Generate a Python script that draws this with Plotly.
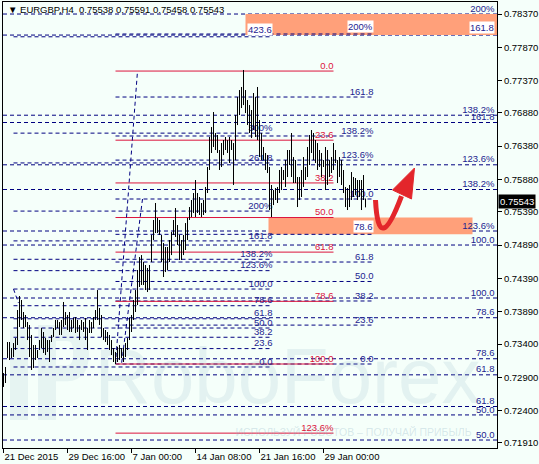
import plotly.graph_objects as go

# ---------------- data ----------------
symbol = "EURGBP,H4"
last_ohlc = ["0.75538", "0.75591", "0.75458", "0.75543"]
last_price = 0.75543

bar_high = [
    0.72963, 0.73054, 0.73430, 0.73430, 0.73340, 0.73415, 0.73490, 0.73912, 0.74123, 0.74063,
    0.73882, 0.73837, 0.73731, 0.73686, 0.73536, 0.73385, 0.73385, 0.73310, 0.73460, 0.73641,
    0.73581, 0.73490, 0.73460, 0.73460, 0.73536, 0.73641, 0.73762, 0.73762, 0.73731, 0.73762,
    0.74033, 0.73882, 0.73837, 0.73882, 0.73762, 0.73792, 0.73807, 0.73762, 0.73686, 0.73762,
    0.73731, 0.73792, 0.73641, 0.73762, 0.73731, 0.73807, 0.73912, 0.74213, 0.73942, 0.73837,
    0.73641, 0.73611, 0.73581, 0.73536, 0.73460, 0.73340, 0.73280, 0.73355, 0.73385, 0.73340,
    0.73340, 0.73415, 0.73490, 0.73792, 0.73837, 0.74063, 0.74213, 0.74515, 0.74710, 0.74740,
    0.74635, 0.74590, 0.74545, 0.74590, 0.75042, 0.75268, 0.75524, 0.75298, 0.75268, 0.75042,
    0.74921, 0.74861, 0.74861, 0.74966, 0.75087, 0.75268, 0.75448, 0.75192, 0.75042, 0.74966,
    0.75042, 0.75222, 0.75298, 0.75463, 0.75569, 0.75674, 0.75870, 0.75674, 0.75614, 0.75524,
    0.75569, 0.75765, 0.76066, 0.76518, 0.76668, 0.76894, 0.76578, 0.76548, 0.76322, 0.76427,
    0.76472, 0.76518, 0.76472, 0.76518, 0.76472, 0.76427, 0.76849, 0.77120, 0.77225, 0.77271,
    0.77527, 0.77225, 0.77075, 0.76999, 0.76924, 0.77180, 0.77120, 0.77271, 0.76774, 0.76578,
    0.76367, 0.76277, 0.76246, 0.76066, 0.75795, 0.75719, 0.75749, 0.75765, 0.76021, 0.76066,
    0.76021, 0.76171, 0.76322, 0.76322, 0.76578, 0.76216, 0.76171, 0.75915, 0.75915, 0.76021,
    0.76216, 0.76066, 0.76367, 0.76548, 0.76623, 0.76578, 0.76472, 0.76427, 0.76322, 0.76277,
    0.76171, 0.76367, 0.76322, 0.76171, 0.76216, 0.76427, 0.76322, 0.76171, 0.76216, 0.76171,
    0.76021, 0.75765, 0.75749, 0.75795, 0.75990, 0.75915, 0.75900, 0.75870, 0.75870, 0.75870,
    0.75945, 0.75591,
]
bar_low = [
    0.72753, 0.72813, 0.73189, 0.73159, 0.73189, 0.73204, 0.73310, 0.73385, 0.73656, 0.73762,
    0.73641, 0.73656, 0.73460, 0.73204, 0.73009, 0.73039, 0.73159, 0.73189, 0.73310, 0.73340,
    0.73265, 0.73234, 0.73280, 0.73129, 0.73430, 0.73506, 0.73611, 0.73641, 0.73536, 0.73536,
    0.73656, 0.73686, 0.73611, 0.73581, 0.73581, 0.73641, 0.73566, 0.73581, 0.73460, 0.73611,
    0.73581, 0.73460, 0.73310, 0.73566, 0.73566, 0.73641, 0.73762, 0.73762, 0.73686, 0.73506,
    0.73460, 0.73430, 0.73385, 0.73310, 0.73234, 0.73129, 0.73099, 0.73129, 0.73159, 0.73189,
    0.73129, 0.73204, 0.73310, 0.73460, 0.73581, 0.73762, 0.73882, 0.73987, 0.74259, 0.74289,
    0.74289, 0.74213, 0.74183, 0.74213, 0.74635, 0.74966, 0.75072, 0.75072, 0.75042, 0.74635,
    0.74409, 0.74484, 0.74515, 0.74635, 0.74740, 0.75042, 0.75012, 0.74891, 0.74665, 0.74665,
    0.74740, 0.74816, 0.74966, 0.75268, 0.75313, 0.75373, 0.75313, 0.75373, 0.75343, 0.75313,
    0.75343, 0.75373, 0.75674, 0.76021, 0.76277, 0.76367, 0.76322, 0.76277, 0.76021, 0.76066,
    0.76246, 0.76322, 0.76277, 0.76126, 0.76322, 0.75795, 0.76171, 0.76698, 0.76849, 0.76954,
    0.76999, 0.76879, 0.76698, 0.76578, 0.76502, 0.76623, 0.76518, 0.76472, 0.76216, 0.76171,
    0.76171, 0.76021, 0.75975, 0.75418, 0.75313, 0.75493, 0.75569, 0.75524, 0.75674, 0.75719,
    0.75870, 0.75765, 0.75915, 0.76096, 0.75915, 0.75825, 0.75825, 0.75463, 0.75569, 0.75614,
    0.75765, 0.75870, 0.75915, 0.76096, 0.76277, 0.76171, 0.76126, 0.76021, 0.76066, 0.75915,
    0.76066, 0.75719, 0.75795, 0.75915, 0.75975, 0.76021, 0.76126, 0.75825, 0.75915, 0.75795,
    0.75674, 0.75463, 0.75418, 0.75463, 0.75569, 0.75614, 0.75644, 0.75569, 0.75614, 0.75418,
    0.75569, 0.75458,
]

x_tick_bars = [0, 32, 64, 96, 128, 160]
x_tick_labels = ["21 Dec 2015", "29 Dec 16:00", "7 Jan 00:00", "14 Jan 08:00", "21 Jan 16:00", "29 Jan 00:00"]

y_tick_values = [0.78370, 0.77870, 0.77370, 0.76880, 0.76380, 0.75880, 0.75390,
                 0.74890, 0.74390, 0.73890, 0.73400, 0.72900, 0.72400, 0.71910]
y_tick_labels = ["0.78370", "0.77870", "0.77370", "0.76880", "0.76380", "0.75880", "0.75390",
                 "0.74890", "0.74390", "0.73890", "0.73400", "0.72900", "0.72400", "0.71910"]

# Fibonacci tool A (red retracement)
fib_a_labels = ["0.0", "23.6", "38.2", "50.0", "61.8", "78.6", "100.0", "123.6%"]
fib_a_prices = [0.77511, 0.76470, 0.75826, 0.75305, 0.74784, 0.74043, 0.73099, 0.72058]
fib_a_bars = [56, 165]

# Fibonacci tool B (navy, from the January low)
fib_b_labels = ["0.0", "23.6", "38.2", "50.0", "61.8", "78.6", "100.0", "123.6%", "138.2%", "161.8", "200%"]
fib_b_prices = [0.73099, 0.73685, 0.74048, 0.74342, 0.74635, 0.75052, 0.75584, 0.76170, 0.76533, 0.77120, 0.78069]
fib_b_bars = [56, 185]

# Fibonacci tool C (navy, from December range)
fib_c_labels = ["0.0", "23.6", "38.2", "50.0", "61.8", "78.6", "100.0", "123.6%", "138.2%",
                "161.8", "200%", "261.8", "300%", "423.6"]
fib_c_prices = [0.73054, 0.73331, 0.73502, 0.73641, 0.73780, 0.73977, 0.74228, 0.74505, 0.74676,
                0.74953, 0.75402, 0.76127, 0.76576, 0.78027]
fib_c_bars = [5, 134.5]

# Full-width Fibonacci tools D1 and D2
fib_d1_labels = ["161.8", "138.2%", "123.6%", "100.0", "78.6", "61.8", "50.0"]
fib_d1_prices = [0.78053, 0.76846, 0.76099, 0.74891, 0.73796, 0.72936, 0.72332]
fib_d2_labels = ["200%", "161.8", "138.2%", "123.6%", "100.0", "78.6", "61.8", "50.0"]
fib_d2_prices = [0.78370, 0.76736, 0.75727, 0.75102, 0.74093, 0.73178, 0.72459, 0.71954]

# target zones
zone_top_bars = [121]               # extends to the right edge
zone_top_prices = [0.78053, 0.78370]
zone_mid_bars = [132.5, 234.5]
zone_mid_prices = [0.75052, 0.75305]

# tool trendlines (bar, price anchors)
trend_bars = [[56, 67], [69.5, 59], [5, 7.5]]
trend_prices = [[0.73099, 0.77511], [0.75584, 0.73099], [0.74228, 0.74018]]

# forecast arrow (bezier anchors + head)
arrow_bars = [186, 187, 191.5, 199]
arrow_prices = [0.75569, 0.74966, 0.75027, 0.75629]
arrow_head_bars = [205.5, 194.5, 204]
arrow_head_prices = [0.76051, 0.75719, 0.75584]

watermark = "RoboForex"
tagline = "ИСПОЛЬЗУЙ РОБОТОВ – ПОЛУЧАЙ ПРИБЫЛЬ"

# ---------------- style ----------------
W, H = 539, 464
ML, MR, MT, MB = 3, 42, 2, 16
X_RANGE = [-0.25, 246.75]
Y_RANGE = [0.71834, 0.78551]
BG = "#F5FFFA"
NAVY = "#000080"
NAVY_TXT = "#23238f"
RED = "#DC143C"
ZONE = "#FFA07A"
ARROW = "#e3262b"
FONT = "Liberation Sans, Arial, sans-serif"
FS = 9.5
DASH = "4px,3px"
WM_COLOR = "rgba(140,175,195,0.17)"
D_LABEL_X = 245.5
BG_LABELS = {("C", "423.6"), ("B", "200%"), ("D1", "161.8"), ("B", "78.6")}
WM_POS = (142, 0.72800)
TAG_POS = (175, 0.72060)

fig = go.Figure()
shapes = []
annotations = []

# watermark (drawn first, beneath everything)
fig.add_trace(go.Scatter(x=[WM_POS[0]], y=[WM_POS[1]], mode="text", text=[watermark],
                         textposition="middle center",
                         textfont=dict(family="Liberation Sans Narrow, Arial Narrow, Liberation Sans, sans-serif",
                                       size=78, color=WM_COLOR),
                         hoverinfo="skip"))
fig.add_trace(go.Scatter(x=[TAG_POS[0]], y=[TAG_POS[1]], mode="text", text=[tagline],
                         textposition="middle center",
                         textfont=dict(family=FONT, size=10.5, color="rgba(140,175,195,0.30)"),
                         hoverinfo="skip"))
# logo blocks
LOGO = "rgba(140,175,195,0.14)"
shapes.append(dict(type="rect", xref="paper", yref="paper", x0=0.0142, x1=0.0506, y0=0.0628, y1=0.2646,
                   fillcolor=LOGO, line_width=0, layer="below"))
shapes.append(dict(type="rect", xref="paper", yref="paper", x0=0.0709, x1=0.1073, y0=0.0628, y1=0.2758,
                   fillcolor=LOGO, line_width=0, layer="below"))
shapes.append(dict(type="path", xref="paper", yref="paper",
                   path="M 0.1073,0.2578 L 0.13,0.2578 Q 0.158,0.2578 0.158,0.2128 Q 0.158,0.1678 0.13,0.1678 L 0.1073,0.1678",
                   line=dict(color=LOGO, width=16), layer="below"))

# zones
shapes.append(dict(type="rect", xref="x", yref="y", x0=zone_top_bars[0], x1=X_RANGE[1],
                   y0=zone_top_prices[0], y1=zone_top_prices[1], fillcolor=ZONE, line_width=0, layer="below"))
shapes.append(dict(type="rect", xref="x", yref="y", x0=zone_mid_bars[0], x1=zone_mid_bars[1],
                   y0=zone_mid_prices[0], y1=zone_mid_prices[1], fillcolor=ZONE, line_width=0, layer="below"))

label_sets = {NAVY_TXT: ([], [], []), RED: ([], [], [])}


def add_tool(key, labels, prices, x0, x1, xref, line_color, dash, label_x, txt_color):
    for lab, p in zip(labels, prices):
        shapes.append(dict(type="line", xref=xref, yref="y", x0=x0, x1=x1, y0=p, y1=p,
                           line=dict(color=line_color, width=1, dash=dash), layer="below"))
        if (key, lab) in BG_LABELS:
            annotations.append(dict(xref="x", yref="y", x=label_x, y=p, text=lab, showarrow=False,
                                    xanchor="right", yanchor="bottom", bgcolor="white", borderpad=0,
                                    yshift=1, font=dict(family=FONT, size=FS, color=txt_color)))
        else:
            xs, ys, ts = label_sets[txt_color]
            xs.append(label_x)
            ys.append(p)
            ts.append(lab)


add_tool("D1", fib_d1_labels, fib_d1_prices, 0, 1, "paper", NAVY, DASH, D_LABEL_X, NAVY_TXT)
add_tool("D2", fib_d2_labels, fib_d2_prices, 0, 1, "paper", NAVY, DASH, D_LABEL_X, NAVY_TXT)
add_tool("C", fib_c_labels, fib_c_prices, fib_c_bars[0], fib_c_bars[1], "x", NAVY, DASH, fib_c_bars[1], NAVY_TXT)
add_tool("B", fib_b_labels, fib_b_prices, fib_b_bars[0], fib_b_bars[1], "x", NAVY, DASH, fib_b_bars[1], NAVY_TXT)
add_tool("A", fib_a_labels, fib_a_prices, fib_a_bars[0], fib_a_bars[1], "x", RED, "solid", fib_a_bars[1], RED)

for bx, bp in zip(trend_bars, trend_prices):
    shapes.append(dict(type="line", xref="x", yref="y", x0=bx[0], x1=bx[1], y0=bp[0], y1=bp[1],
                       line=dict(color=NAVY, width=1, dash=DASH), layer="below"))

# labels as text traces (beneath the bars, like the terminal draws them)
for color, (xs, ys, ts) in label_sets.items():
    fig.add_trace(go.Scatter(x=xs, y=ys, text=ts, mode="text", textposition="top left",
                             textfont=dict(family=FONT, size=FS, color=color), hoverinfo="skip"))

# price bars (high-low)
px_, py_ = [], []
for i, (hi, lo) in enumerate(zip(bar_high, bar_low)):
    px_ += [i, i, None]
    py_ += [lo, hi, None]
fig.add_trace(go.Scatter(x=px_, y=py_, mode="lines", line=dict(color="black", width=1),
                         hoverinfo="skip"))

# forecast arrow
ab, ap = arrow_bars, arrow_prices
shapes.append(dict(type="path", xref="x", yref="y",
                   path=f"M {ab[0]},{ap[0]} C {ab[1]},{ap[1]} {ab[2]},{ap[2]} {ab[3]},{ap[3]}",
                   line=dict(color=ARROW, width=5), layer="above"))
hb, hp = arrow_head_bars, arrow_head_prices
shapes.append(dict(type="path", xref="x", yref="y",
                   path=f"M {hb[0]},{hp[0]} L {hb[1]},{hp[1]} L {hb[2]},{hp[2]} Z",
                   fillcolor=ARROW, line=dict(color=ARROW, width=1), layer="above"))

# header
header = "▼ " + symbol + "&nbsp; " + " ".join(last_ohlc)
annotations.append(dict(xref="paper", yref="paper", x=0.006, y=0.984, text=header, showarrow=False,
                        xanchor="left", yanchor="middle", font=dict(family=FONT, size=FS, color="black")))
# current price box
annotations.append(dict(xref="paper", yref="y", x=1, y=last_price, text=f"{last_price:.5f}", showarrow=False,
                        xanchor="left", yanchor="middle", bgcolor="black", borderpad=1, xshift=1,
                        font=dict(family=FONT, size=FS, color="white")))

fig.update_layout(width=W, height=H, margin=dict(l=ML, r=MR, t=MT, b=MB, pad=0, autoexpand=False),
                  paper_bgcolor=BG, plot_bgcolor=BG, showlegend=False, hovermode=False,
                  shapes=shapes, annotations=annotations,
                  font=dict(family=FONT, size=FS, color="black"))
fig.update_xaxes(range=X_RANGE, showgrid=False, zeroline=False, showline=True, linecolor="black",
                 linewidth=1, mirror=True, ticks="outside", ticklen=4, tickcolor="black",
                 tickvals=x_tick_bars, ticktext=x_tick_labels, ticklabelposition="outside right",
                 tickangle=0, automargin=False,
                 tickfont=dict(family=FONT, size=FS, color="black"))
fig.update_yaxes(range=Y_RANGE, side="right", showgrid=False, zeroline=False, showline=True,
                 linecolor="black", linewidth=1, mirror=True, ticks="outside", ticklen=4,
                 tickcolor="black", tickvals=y_tick_values, ticktext=y_tick_labels, automargin=False,
                 tickfont=dict(family=FONT, size=FS, color="black"))

fig.write_html("out.html", config={"displayModeBar": False, "staticPlot": True},
               post_script="document.body.style.margin='0';document.body.style.background='" + BG + "';")
